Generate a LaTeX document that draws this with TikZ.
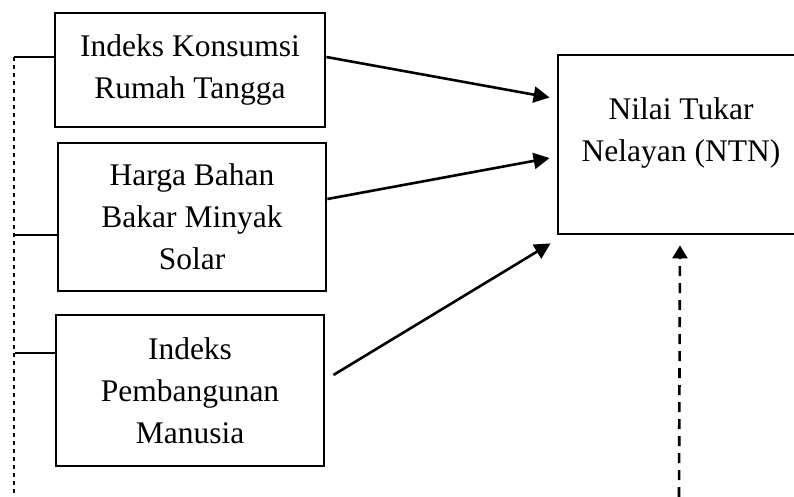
\documentclass[tikz,border=0pt]{standalone}
\usepackage{fontspec}
\setmainfont{Liberation Serif}
\usetikzlibrary{arrows.meta,calc}
\begin{document}
\begin{tikzpicture}[x=1pt,y=-1pt,
  txt/.style={font=\fontsize{31.5}{42}\selectfont, align=center, inner sep=0pt},
  varbox/.style={txt, draw, line width=2.8pt},
  conn/.style={line width=2.6pt, -{Triangle[length=16pt,width=16pt]}},
  dconn/.style={line width=2.6pt, dash pattern=on 10pt off 7pt, -{Triangle[length=13pt,width=15pt]}},
  dotline/.style={line width=1.2pt, dash pattern=on 4pt off 4pt},
  tick/.style={line width=1.2pt}]
\useasboundingbox (0,0) rectangle (794,497);
\node[varbox, minimum width=270pt, minimum height=114pt] (b1) at (190,70) {Indeks Konsumsi\\Rumah Tangga};
\node[varbox, minimum width=268pt, minimum height=148pt] (b2) at (192,217) {Harga Bahan\\Bakar Minyak\\Solar};
\node[varbox, minimum width=268pt, minimum height=151pt] (b3) at (190,390.5) {Indeks\\Pembangunan\\Manusia};
\node[draw, line width=2.8pt, minimum width=247pt, minimum height=179pt] (ntn) at (681.5,144.5) {};
\node[txt] (ntntext) at (681,133) {Nilai Tukar\\Nelayan (NTN)};
\draw[conn] ($(b1.east)+(0,-13)$) -- ($(ntn.west)+(-7,-47)$);
\draw[conn] ($(b2.east)+(0,-18)$) -- ($(ntn.west)+(-7,13.5)$);
\draw[conn] ($(b3.east)+(8,-15.5)$) -- ($(ntn.south west)+(-6,8)$);
\coordinate (dbot) at (679,497);
\draw[dconn] (dbot) -- ($(ntn.south)+(-1.5,10)$);
\coordinate (ltop) at (14,57);
\coordinate (lbot) at (14,497);
\draw[dotline] (ltop) -- (lbot);
\draw[tick] (ltop) -- ($(b1.west)+(0,-13)$);
\draw[tick] ($(b2.west)+(-44,18)$) -- ($(b2.west)+(0,18)$);
\draw[tick] ($(b3.west)+(-40,-37.5)$) -- ($(b3.west)+(0,-37.5)$);
\end{tikzpicture}
\end{document}
